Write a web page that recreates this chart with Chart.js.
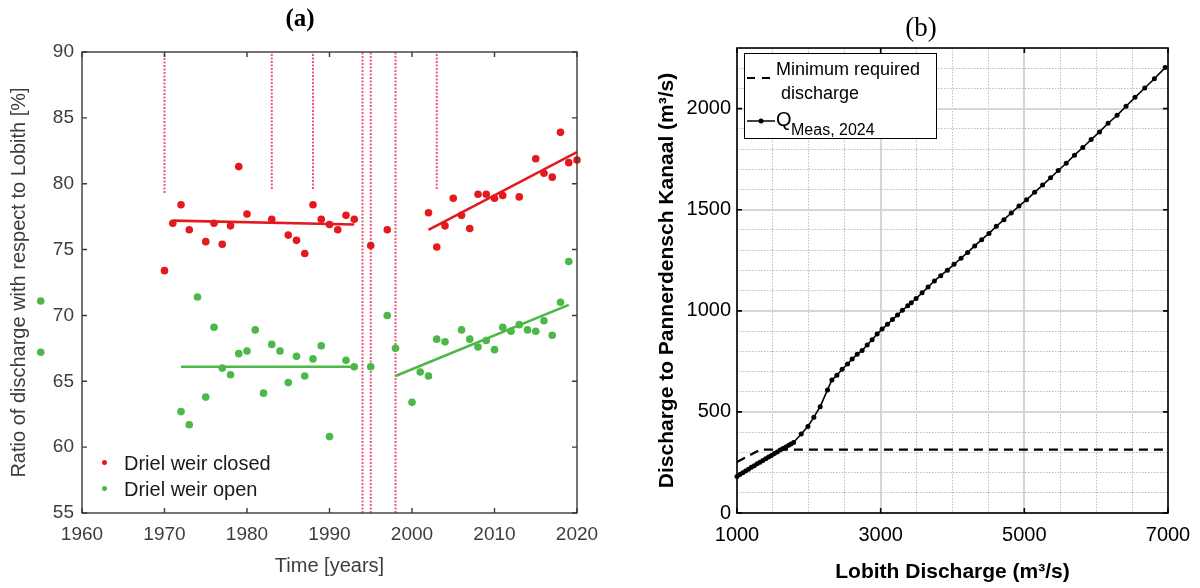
<!DOCTYPE html>
<html>
<head>
<meta charset="utf-8">
<script src="https://cdn.jsdelivr.net/npm/chart.js@4.4.1/dist/chart.umd.min.js"></script>
<style>
  body { margin: 0; background: #fff; }
  #wrap { position: relative; width: 1200px; height: 588px; overflow: hidden; font-family: 'Liberation Sans', Arial, sans-serif; }
  canvas { position: absolute; top: 0; }
  #chartA { left: 0; }
  #chartB { left: 600px; }
  .abs { position: absolute; white-space: nowrap; }
  .ttl { position: absolute; transform: translate(-50%, -50%); font-family: 'Liberation Serif', 'DejaVu Serif', serif; }
  .lgA { position: absolute; font-size: 20px; line-height: 20px; color: #1a1a1a; }
  .dot { position: absolute; width: 5px; height: 5px; border-radius: 50%; }
  #boxB { position: absolute; left: 744px; top: 53px; width: 193px; height: 86px; border: 1.4px solid #000; box-sizing: border-box; background: #fff; }
  .lgB { position: absolute; font-size: 18px; line-height: 20px; color: #000; }
</style>
</head>
<body>
<div id="wrap">
  <canvas id="chartA" width="600" height="588"></canvas>
  <canvas id="chartB" width="600" height="588"></canvas>

  <div class="ttl" style="left:300px; top:18px; font-size:25px; font-weight:bold;">(a)</div>
  <div class="ttl" style="left:921px; top:27px; font-size:27px;">(b)</div>

  <!-- legend panel (a) -->
  <span class="dot" style="left:102px; top:460px; background:#e3191e;"></span>
  <div class="lgA abs" style="left:124px; top:453px;">Driel weir closed</div>
  <span class="dot" style="left:102px; top:486px; background:#4cb848;"></span>
  <div class="lgA abs" style="left:124px; top:479px;">Driel weir open</div>

  <!-- legend panel (b) -->
  <div id="boxB"></div>
  <svg class="abs" style="left:746px; top:74px;" width="28" height="8">
    <line x1="1" y1="4" x2="26" y2="4" stroke="#000" stroke-width="2.2" stroke-dasharray="8 7"/>
  </svg>
  <div class="lgB abs" style="left:776px; top:59px;">Minimum required</div>
  <div class="lgB abs" style="left:781px; top:83px;">discharge</div>
  <svg class="abs" style="left:746px; top:116px;" width="30" height="10">
    <line x1="1" y1="5" x2="29" y2="5" stroke="#000" stroke-width="1.5"/>
    <circle cx="15" cy="5" r="2.5" fill="#000"/>
  </svg>
  <div class="lgB abs" style="left:776px; top:109px; font-size:20px;">Q</div>
  <div class="lgB abs" style="left:791px; top:120px; font-size:16px;">Meas, 2024</div>
</div>

<script>
// ---- panel (a): ratio Pannerdensch Kanaal / Lobith ----
const closedYears = [1970, 1971, 1972, 1973, 1975, 1976, 1977, 1978, 1979, 1980, 1983, 1985, 1986, 1987, 1988, 1989, 1990, 1991, 1992, 1993, 1995, 1997,
    2002, 2003, 2004, 2005, 2006, 2007, 2008, 2009, 2010, 2011, 2013, 2015, 2016, 2017, 2018, 2019, 2020];
const closedRatio = [73.4, 77.0, 78.4, 76.5, 75.6, 77.0, 75.4, 76.8, 81.3, 77.7, 77.3, 76.1, 75.7, 74.7, 78.4, 77.3, 76.9, 76.5, 77.6, 77.3, 75.3, 76.5,
    77.8, 75.2, 76.8, 78.9, 77.6, 76.6, 79.2, 79.2, 78.9, 79.1, 79.0, 81.9, 80.8, 80.5, 83.9, 81.6, 81.8];

const openYears = [1972, 1973, 1974, 1975, 1976, 1977, 1978, 1979, 1980, 1981, 1982, 1983, 1984, 1985, 1986, 1987, 1988, 1989, 1990, 1992, 1993, 1995,
    1997, 1998, 2000, 2001, 2002, 2003, 2004, 2006, 2007, 2008, 2009, 2010, 2011, 2012, 2013, 2014, 2015, 2016, 2017, 2018, 2019];
const openRatio = [62.7, 61.7, 71.4, 63.8, 69.1, 66.0, 65.5, 67.1, 67.3, 68.9, 64.1, 67.8, 67.3, 64.9, 66.9, 65.4, 66.7, 67.7, 60.8, 66.6, 66.1, 66.1,
    70.0, 67.5, 63.4, 65.7, 65.4, 68.2, 68.0, 68.9, 68.2, 67.6, 68.1, 67.4, 69.1, 68.8, 69.3, 68.9, 68.8, 69.6, 68.5, 71.0, 74.1];

// two green dots left of the axis in the original figure (outside the plot area)
const strayYears = [1955, 1955];
const strayRatio = [71.1, 67.2];

// trend lines (start / end of each period)
const closedTrendYears1 = [1971, 1993];
const closedTrendRatio1 = [77.2, 76.9];
const closedTrendYears2 = [2002, 2020];
const closedTrendRatio2 = [76.5, 82.4];
const openTrendYears1 = [1972, 1993];
const openTrendRatio1 = [66.1, 66.1];
const openTrendYears2 = [1998, 2019];
const openTrendRatio2 = [65.4, 70.8];

// dotted vertical markers
const markerYears = [1970, 1983, 1988, 1994, 1995, 1998, 2003];
const markerBottom = [79.3, 79.6, 79.6, 55, 55, 55, 79.6];

// ---- panel (b): discharge to Pannerdensch Kanaal ----
const lobithQ = [1000, 1040, 1080, 1120, 1160, 1200, 1240, 1280, 1320, 1360, 1400, 1440, 1480, 1520, 1560, 1600, 1640, 1680, 1720, 1750, 1788,
    1894, 1987, 2070, 2158, 2260, 2321, 2390, 2464, 2539, 2603, 2673, 2742, 2812, 2881, 2951, 3020, 3095, 3164, 3234, 3303,
    3377, 3426, 3493, 3577, 3660, 3748, 3836, 3929, 4021, 4119, 4211, 4309, 4406, 4508, 4610, 4716, 4818, 4925, 5031, 5143,
    5254, 5365, 5472, 5583, 5698, 5814, 5930, 6046, 6166, 6291, 6416, 6541, 6676, 6810, 6960];
const pannerdenQ = [181, 190, 199, 208, 217, 226, 234, 243, 251, 260, 268, 277, 285, 294, 302, 311, 319, 327, 335, 341, 349,
    391, 428, 474, 526, 609, 658, 681, 711, 737, 762, 785, 804, 831, 857, 885, 910, 933, 957, 979, 1003,
    1025, 1040, 1061, 1089, 1118, 1148, 1174, 1201, 1230, 1260, 1289, 1321, 1352, 1383, 1418, 1451, 1484, 1518, 1549, 1586,
    1622, 1658, 1694, 1730, 1770, 1808, 1847, 1885, 1928, 1967, 2012, 2056, 2102, 2148, 2203];

const minReqX = [1000, 1320, 7000];
const minReqY = [252, 313, 313];

const RED = '#e3191e';
const GREEN = '#4cb848';
const MARKER = 'rgba(236, 70, 105, 0.9)';

Chart.defaults.font.family = "'Liberation Sans', Arial, sans-serif";

const zip = (xs, ys) => xs.map((x, i) => ({ x: x, y: ys[i] }));
const onStep = (v, base, step) => Math.abs((v - base) / step - Math.round((v - base) / step)) < 1e-6;

// frame around the plot with inward tick marks
const frameTicks = {
    id: 'frameTicks',
    afterDatasetsDraw(chart, args, opts) {
        const { ctx, chartArea: a, scales: { x, y } } = chart;
        ctx.save();
        ctx.strokeStyle = opts.color;
        ctx.lineWidth = opts.width;
        ctx.beginPath();
        x.ticks.forEach(t => {
            if (!onStep(t.value, opts.baseX, opts.stepX)) return;
            const px = x.getPixelForValue(t.value);
            ctx.moveTo(px, a.top); ctx.lineTo(px, a.top + opts.len);
            ctx.moveTo(px, a.bottom); ctx.lineTo(px, a.bottom - opts.len);
        });
        y.ticks.forEach(t => {
            if (!onStep(t.value, opts.baseY, opts.stepY)) return;
            const py = y.getPixelForValue(t.value);
            ctx.moveTo(a.left, py); ctx.lineTo(a.left + opts.len, py);
            ctx.moveTo(a.right, py); ctx.lineTo(a.right - opts.len, py);
        });
        ctx.stroke();
        ctx.strokeRect(a.left, a.top, a.right - a.left, a.bottom - a.top);
        ctx.restore();
    }
};

// point elements skip anything outside the chart area, so the stray dots are placed with the scales here
const strayDots = {
    id: 'strayDots',
    afterDatasetsDraw(chart) {
        const { ctx, scales: { x, y } } = chart;
        ctx.save();
        ctx.fillStyle = GREEN;
        strayYears.forEach((yr, i) => {
            ctx.beginPath();
            ctx.arc(x.getPixelForValue(yr), y.getPixelForValue(strayRatio[i]), 3.8, 0, Math.PI * 2);
            ctx.fill();
        });
        ctx.restore();
    }
};

function pointSet(data, color, r) {
    return { type: 'scatter', data: data, backgroundColor: color, borderWidth: 0, pointRadius: r, clip: false };
}
function trendSet(data, color) {
    return { type: 'line', data: data, borderColor: color, borderWidth: 2.6, pointRadius: 0, fill: false };
}

const markerSets = markerYears.map((yr, i) => ({
    type: 'line',
    data: [{ x: yr, y: markerBottom[i] }, { x: yr, y: 90 }],
    borderColor: MARKER,
    borderWidth: 2,
    borderDash: [2, 1.5],
    pointRadius: 0,
    fill: false
}));

new Chart(document.getElementById('chartA'), {
    type: 'scatter',
    data: {
        datasets: [
            pointSet(zip(closedYears, closedRatio), RED, 3.8),
            pointSet(zip(openYears, openRatio), GREEN, 3.8),
            trendSet(zip(closedTrendYears1, closedTrendRatio1), RED),
            trendSet(zip(closedTrendYears2, closedTrendRatio2), RED),
            trendSet(zip(openTrendYears1, openTrendRatio1), GREEN),
            trendSet(zip(openTrendYears2, openTrendRatio2), GREEN),
            ...markerSets
        ]
    },
    options: {
        responsive: false,
        animation: false,
        layout: { padding: { top: 52, right: 23, bottom: 10, left: 7 } },
        plugins: {
            legend: { display: false },
            tooltip: { enabled: false },
            frameTicks: { color: '#3a3a3a', width: 1.4, len: 5, baseX: 1960, stepX: 10, baseY: 55, stepY: 5 }
        },
        scales: {
            x: {
                type: 'linear', min: 1960, max: 2020,
                ticks: { stepSize: 10, color: '#3d3d3d', font: { size: 19 }, padding: 10, maxRotation: 0, callback: v => String(v) },
                grid: { display: false, drawTicks: false },
                border: { display: false },
                title: { display: true, text: 'Time [years]', color: '#3d3d3d', font: { size: 20 }, padding: 0 },
                afterFit: s => { s.height = 65; s.paddingLeft = 0; s.paddingRight = 0; }
            },
            y: {
                min: 55, max: 90,
                ticks: { stepSize: 5, color: '#3d3d3d', font: { size: 19 }, padding: 8, callback: v => String(v) },
                grid: { display: false, drawTicks: false },
                border: { display: false },
                title: { display: true, text: 'Ratio of discharge with respect to Lobith [%]', color: '#3d3d3d', font: { size: 20 }, padding: 0 },
                afterFit: s => { s.width = 75; s.paddingTop = 0; s.paddingBottom = 0; }
            }
        }
    },
    plugins: [frameTicks, strayDots]
});

new Chart(document.getElementById('chartB'), {
    type: 'line',
    data: {
        datasets: [
            {
                label: 'Q Meas, 2024',
                data: zip(lobithQ, pannerdenQ),
                borderColor: '#000', borderWidth: 1.6,
                backgroundColor: '#000', pointRadius: 2.5, pointBorderWidth: 0,
                fill: false, clip: false
            },
            {
                label: 'Minimum required discharge',
                data: zip(minReqX, minReqY),
                borderColor: '#000', borderWidth: 2.2, borderDash: [9, 6],
                pointRadius: 0, fill: false
            }
        ]
    },
    options: {
        responsive: false,
        animation: false,
        layout: { padding: { top: 48, right: 32, bottom: 3, left: 55 } },
        plugins: {
            legend: { display: false },
            tooltip: { enabled: false },
            frameTicks: { color: '#000', width: 1.6, len: 5, baseX: 1000, stepX: 2000, baseY: 0, stepY: 500 }
        },
        scales: {
            x: {
                type: 'linear', min: 1000, max: 7000,
                ticks: {
                    stepSize: 500, color: '#000', font: { size: 20 }, padding: 10, maxRotation: 0, autoSkip: false,
                    callback: v => onStep(v, 1000, 2000) ? String(v) : ''
                },
                grid: {
                    drawTicks: false,
                    color: c => onStep(c.tick.value, 1000, 2000) ? '#d6d6d6' : '#bdbdbd',
                    lineWidth: c => onStep(c.tick.value, 1000, 2000) ? 2 : 1
                },
                border: { display: false, dash: c => onStep(c.tick.value, 1000, 2000) ? [] : [1.5, 1.5] },
                title: { display: true, text: 'Lobith Discharge (m³/s)', color: '#000', font: { size: 21, weight: 'bold' }, padding: 0 },
                afterFit: s => { s.height = 72; s.paddingLeft = 0; s.paddingRight = 0; }
            },
            y: {
                min: 0, max: 2300,
                ticks: {
                    stepSize: 100, color: '#000', font: { size: 20 }, padding: 6, autoSkip: false,
                    callback: v => onStep(v, 0, 500) ? String(v) : ''
                },
                grid: {
                    drawTicks: false,
                    color: c => onStep(c.tick.value, 0, 500) ? '#d6d6d6' : '#bdbdbd',
                    lineWidth: c => onStep(c.tick.value, 0, 500) ? 2 : 1
                },
                border: { display: false, dash: c => onStep(c.tick.value, 0, 500) ? [] : [1.5, 1.5] },
                title: { display: true, text: 'Discharge to Pannerdensch Kanaal (m³/s)', color: '#000', font: { size: 21, weight: 'bold' }, padding: 0 },
                afterFit: s => { s.width = 82; s.paddingTop = 0; s.paddingBottom = 0; }
            }
        }
    },
    plugins: [frameTicks]
});
</script>
</body>
</html>
